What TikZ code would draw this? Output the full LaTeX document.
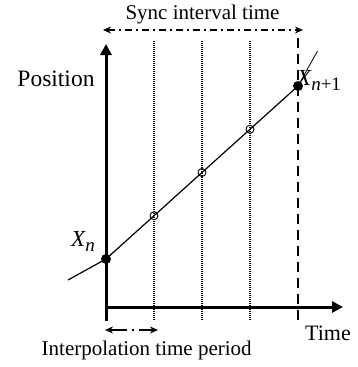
\documentclass[tikz,border=0pt]{standalone}
\usepackage{fontspec}
\setmainfont{Liberation Serif}
\usetikzlibrary{arrows.meta}
\begin{document}
\begin{tikzpicture}[x=1pt,y=-1pt,
  axisline/.style={line width=3pt,-{Triangle[length=11pt,width=11pt]}},
  curve/.style={line width=1.2pt},
  gridline/.style={line width=1.3pt,dash pattern=on 1pt off 1pt},
  syncline/.style={line width=1.6pt,dash pattern=on 7pt off 4pt on 2pt off 4pt},
  spanarrow/.style={{Stealth[length=8pt,width=7pt]}-{Stealth[length=8pt,width=7pt]}},
  bigdot/.style={circle,fill=black,inner sep=0pt,minimum size=10pt},
  smallcirc/.style={circle,draw=black,line width=0.9pt,inner sep=0pt,minimum size=8pt},
  lbl/.style={inner sep=0pt}
]
\useasboundingbox (0,0) rectangle (357,367);
% coordinates
\coordinate (ybot) at (106,321);
\coordinate (ytop) at (106,44);
\coordinate (xl) at (104.5,307);
\coordinate (xr) at (343,307);
\foreach \n/\x in {1/154,2/202,3/250}{
  \coordinate (g\n t) at (\x,41);
  \coordinate (g\n b) at (\x,321);
}
\coordinate (dt) at (298,38);
\coordinate (db) at (298,320);
\coordinate (L0) at (68,280);
\coordinate (L1) at (317.5,51);
% grid lines
\foreach \n in {1,2,3}{\draw[gridline] (g\n t) -- (g\n b);}
\draw[line width=1.8pt,dash pattern=on 10pt off 6pt] (dt) -- (db);
% axes
\draw[axisline] (xl) -- (xr);
\draw[axisline] (ybot) -- (ytop);
% points
\node[bigdot] (Xn) at (106,259) {};
\node[bigdot] (Xn1) at (298,86) {};
\node[smallcirc] (c1) at (154,215.75) {};
\node[smallcirc] (c2) at (202,172.5) {};
\node[smallcirc] (c3) at (250,129.25) {};
% curve
\draw[curve] (L0) -- (Xn.center);
\draw[curve] (Xn.center) -- (c1.center) -- (c2.center) -- (c3.center) -- (Xn1.center);
\draw[line width=0.8pt] (Xn1.center) -- (L1);
% span arrows
\coordinate (s0) at (103,30);
\coordinate (s1) at (303,30);
\draw[syncline,spanarrow] (s0) -- (s1);
\coordinate (i0) at (105,330);
\coordinate (i1) at (158,330);
\draw[line width=1.6pt,dash pattern=on 17pt off 5pt on 2pt off 5pt,spanarrow] (i0) -- (i1);
% labels
\node[lbl,anchor=base] (sync) at (202.5,19) {\fontsize{21}{21}\selectfont Sync interval time};
\node[lbl,anchor=base] (pos) at (56,86) {\fontsize{23.5}{23.5}\selectfont Position};
\node[lbl,anchor=base] (time) at (328,340) {\fontsize{22}{22}\selectfont Time};
\node[lbl,anchor=base] (interp) at (146.7,355) {\fontsize{21}{21}\selectfont Interpolation time period};
\node[lbl,anchor=base west] (lxn) at (71,246) {\fontsize{23}{23}\selectfont\itshape X\raisebox{-5pt}{\fontsize{19}{19}\selectfont n}};
\node[lbl,anchor=base west] (lxn1) at (297,85) {\fontsize{23}{23}\selectfont\itshape X\raisebox{-5pt}{\fontsize{19}{19}\selectfont n\upshape+1}};
\end{tikzpicture}
\end{document}
